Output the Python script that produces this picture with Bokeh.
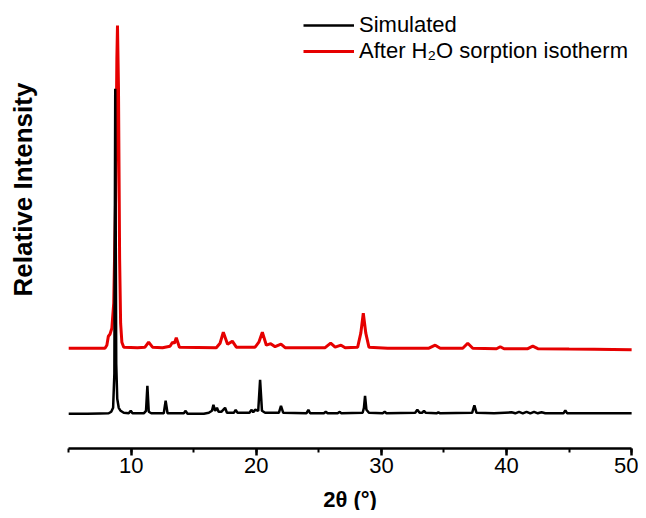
import math
from bokeh.plotting import figure
from bokeh.models import Range1d, SingleIntervalTicker, Legend, LegendItem, Label
from bokeh.embed import file_html
from bokeh.resources import INLINE

# ---- data ----
# Simulated pattern: 2theta and relative intensity (arbitrary units)
sim_2theta = [5.0, 6.5, 7.5, 8.2, 8.4, 8.55, 8.65, 8.69, 8.72, 8.76, 8.8, 8.88, 9.0, 9.15, 9.4, 9.8,
              9.96, 10.1, 11.0, 11.18, 11.29, 11.4, 11.6, 12.6, 12.75, 12.9, 14.2, 14.35, 14.5, 15.8,
              16.2, 16.45, 16.57, 16.7, 16.85, 16.98, 17.2, 17.5, 17.65, 18.2, 18.35, 18.5, 19.45, 19.6,
              19.75, 19.9, 20.15, 20.3, 20.45, 20.7, 21.8, 21.97, 22.15, 24.0, 24.16, 24.3, 25.4, 25.55,
              25.7, 26.5, 26.67, 26.8, 28.5, 28.6, 28.69, 28.8, 29.0, 30.1, 30.26, 30.4, 32.7, 32.87,
              33.05, 33.25, 33.4, 33.55, 34.4, 34.55, 34.7, 37.25, 37.43, 37.6, 39.0, 40.4, 40.7, 41.0,
              41.3, 41.6, 41.9, 42.2, 42.5, 42.8, 43.1, 44.55, 44.7, 44.85, 46.0, 50.0]
sim_int = [0, 0, 0.3, 0.5, 2, 6, 40, 200, 325, 180, 50, 15, 6, 3, 1, 0.5,
           3, 0.5, 0.5, 3, 28, 2, 0.5, 0.5, 13, 0.5, 0.5, 3, 0, 0,
           1, 3, 9, 3, 6, 2, 2, 6, 1, 1, 4, 1, 1, 4,
           1.5, 4, 3, 34, 3, 1, 1, 8, 1, 0.5, 4, 0.5, 0.5, 2,
           0.5, 0.5, 2, 0.5, 1, 6, 18, 4, 1, 0.5, 2, 0.5, 1, 4,
           1, 1, 3, 1, 0.5, 1.5, 0.5, 1, 8.5, 1, 0.5, 1.5, 0.5, 2,
           0.5, 2, 0.5, 2, 0.5, 1.5, 0.5, 0.5, 3.5, 0.5, 0.5, 0.5]

# After H2O sorption isotherm
exp_2theta = [5.0, 7.0, 7.9, 8.05, 8.17, 8.3, 8.45, 8.6, 8.75, 8.85, 8.9, 8.98, 9.07, 9.15, 9.25, 9.4,
              10.5, 11.1, 11.39, 11.7, 12.5, 13.1, 13.3, 13.45, 13.6, 13.85, 16.8, 17.1, 17.36, 17.7,
              18.08, 18.4, 19.9, 20.2, 20.48, 20.8, 21.15, 21.5, 21.97, 22.3, 25.5, 25.94, 26.3, 26.77,
              27.1, 28.1, 28.35, 28.55, 28.75, 29.0, 30.5, 33.8, 34.3, 34.7, 36.5, 36.9, 37.3, 39.2,
              39.5, 39.8, 41.7, 42.1, 42.5, 45.0, 47.0, 50.0]
exp_int = [0, 0, 0, 3, 12, 14, 20, 45, 150, 290, 322.7, 260, 90, 25, 6, 1,
           0.5, 1, 6, 1, 0.5, 2, 6, 5, 10.5, 1, 0.5, 5, 16, 4,
           7, 1, 1, 6, 16, 3, 4.5, 1.5, 4, 0.5, 0.5, 5, 1, 3,
           0.5, 1, 15, 35, 15, 1, 0, 0, 3, 0, 0, 5, 0, -0.5,
           1.5, -0.5, -0.5, 2, -0.5, -0.8, -1, -1.6]

x_ticks = [10, 20, 30, 40, 50]
x_min, x_max = 5, 50

# stacking offsets for display
sim_offset = 34.2
exp_offset = 99.8

sim_y = [v + sim_offset for v in sim_int]
exp_y = [v + exp_offset for v in exp_int]

FONT = "Liberation Sans"

p = figure(width=638, height=510, output_backend="svg", toolbar_location=None,
           x_range=Range1d(-0.452, 50.55), y_range=Range1d(-62.5, 447.5),
           min_border=0, min_border_left=0, min_border_right=0, min_border_top=0, min_border_bottom=0)
p.outline_line_color = None
p.xgrid.visible = False
p.ygrid.visible = False
p.yaxis.visible = False
p.background_fill_color = "white"
p.border_fill_color = "white"

r_exp = p.line(exp_2theta, exp_y, line_color="#e60000", line_width=3)
r_sim = p.line(sim_2theta, sim_y, line_color="black", line_width=2.5)

xa = p.xaxis[0]
xa.fixed_location = 0
xa.bounds = (x_min, x_max)
xa.ticker = SingleIntervalTicker(interval=10, num_minor_ticks=2)
xa.axis_line_width = 2.5
xa.major_tick_line_width = 2.5
xa.minor_tick_line_width = 2
xa.major_tick_in = 0
xa.major_tick_out = 7
xa.minor_tick_in = 0
xa.minor_tick_out = 4
xa.major_label_text_font = FONT
xa.major_label_text_font_size = "22px"
xa.major_label_text_color = "black"
xa.major_label_standoff = 3
xa.axis_label = "2θ (°)"
xa.axis_label_text_font = FONT
xa.axis_label_text_font_size = "22px"
xa.axis_label_text_font_style = "bold"
xa.axis_label_text_color = "black"
xa.axis_label_standoff = 10

ylab = Label(x=1.307, y=258.5, x_units="data", y_units="data", text="Relative Intensity",
             angle=math.pi / 2, text_align="center", text_baseline="middle",
             text_font=FONT, text_font_size="26px", text_font_style="bold", text_color="black")
p.add_layout(ylab)

legend = Legend(items=[LegendItem(label="Simulated", renderers=[r_sim]),
                       LegendItem(label="After H₂O sorption isotherm", renderers=[r_exp])],
                location=(303, 446), orientation="vertical",
                glyph_width=51, glyph_height=24, label_height=24, label_standoff=5,
                spacing=0, padding=0, margin=0,
                label_text_font=FONT, label_text_font_size="22px", label_text_color="black",
                border_line_color=None, background_fill_alpha=0)
p.add_layout(legend)

open("out.html", "w").write(file_html(p, INLINE))
